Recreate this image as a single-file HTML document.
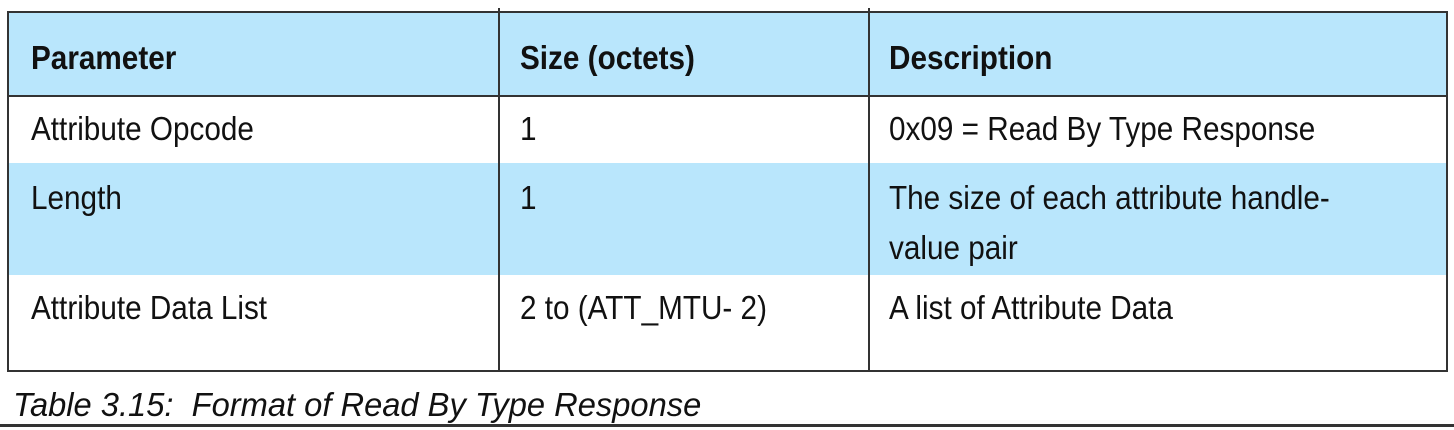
<!DOCTYPE html>
<html><head><meta charset="utf-8"><style>
body{margin:0;width:1454px;height:427px;background:#fff;position:relative;overflow:hidden;font-family:"Liberation Sans",Arial,sans-serif;color:#111}
.bg{position:absolute;left:8px;width:1439px;background:#b9e6fc}
.h{position:absolute;background:#333;height:2px}
.v{position:absolute;background:#333;width:2px}
.t{position:absolute;font-size:33px;white-space:nowrap;line-height:50px;transform:scaleX(0.9);transform-origin:0 0}
.b{font-weight:bold}
</style></head><body>
<div class="bg" style="top:12px;height:84px"></div>
<div class="bg" style="top:163px;height:112px"></div>
<div class="h" style="left:8px;width:1440px;top:11px"></div>
<div class="h" style="left:8px;width:1440px;top:95px"></div>
<div class="h" style="left:8px;width:1440px;top:370px"></div>
<div class="v" style="left:7px;top:11px;height:361px"></div>
<div class="v" style="left:498px;top:8px;height:364px"></div>
<div class="v" style="left:868px;top:8px;height:364px"></div>
<div class="v" style="left:1446px;top:11px;height:361px"></div>
<div class="t b" style="left:31px;top:33px">Parameter</div>
<div class="t b" style="left:520px;top:33px">Size (octets)</div>
<div class="t b" style="left:889px;top:33px">Description</div>
<div class="t" style="left:31px;top:104px">Attribute Opcode</div>
<div class="t" style="left:520px;top:104px">1</div>
<div class="t" style="left:889px;top:104px">0x09 = Read By Type Response</div>
<div class="t" style="left:31px;top:173px">Length</div>
<div class="t" style="left:520px;top:173px">1</div>
<div class="t" style="left:889px;top:173px">The size of each attribute handle-<br>value pair</div>
<div class="t" style="left:31px;top:283px">Attribute Data List</div>
<div class="t" style="left:520px;top:283px">2 to (ATT_MTU- 2)</div>
<div class="t" style="left:889px;top:283px">A list of Attribute Data</div>
<div class="t" style="left:13px;top:380px;font-style:italic;font-size:33px;transform:scaleX(0.99)">Table 3.15:&nbsp; Format of Read By Type Response</div>
<div style="position:absolute;left:0;top:424px;width:1454px;height:3px;background:#333"></div>
</body></html>
